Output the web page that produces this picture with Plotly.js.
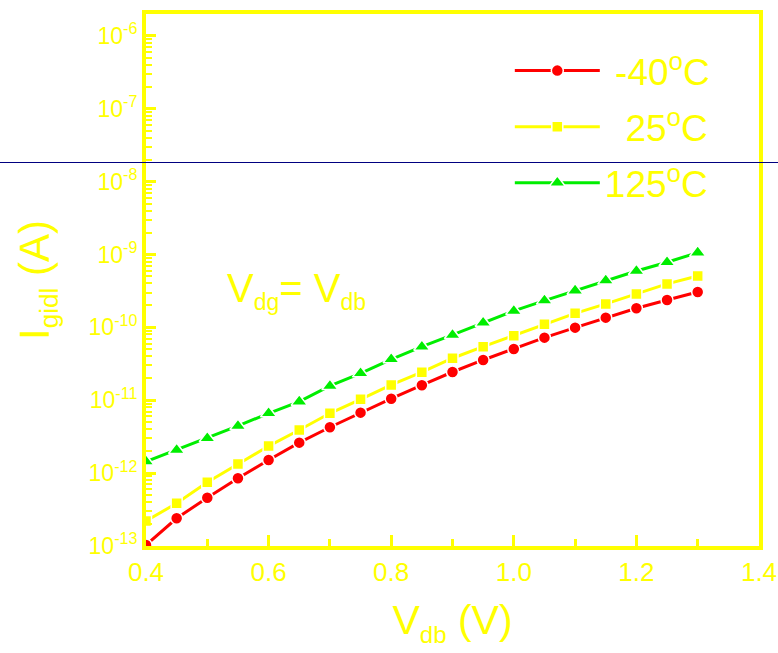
<!DOCTYPE html>
<html>
<head>
<meta charset="utf-8">
<script src="https://cdn.plot.ly/plotly-3.0.1.min.js"></script>
<style>html,body{margin:0;padding:0;background:#fff;}#chart{width:778px;height:653px;}</style>
</head>
<body>
<div id="chart"></div>
<script>
// Drain voltage V_db (V)
var vdb = [0.40, 0.45, 0.50, 0.55, 0.60, 0.65, 0.70, 0.75, 0.80, 0.85, 0.90, 0.95, 1.00, 1.05, 1.10, 1.15, 1.20, 1.25, 1.30];
// GIDL current (A) at each temperature
var iMinus40 = [1.03e-13, 2.40e-13, 4.60e-13, 8.49e-13, 1.51e-12, 2.62e-12, 4.26e-12, 6.76e-12, 1.05e-11, 1.61e-11, 2.44e-11, 3.57e-11, 5.06e-11, 7.23e-11, 9.91e-11, 1.36e-10, 1.83e-10, 2.38e-10, 3.06e-10];
var i25 = [2.20e-13, 3.86e-13, 7.48e-13, 1.33e-12, 2.35e-12, 3.91e-12, 6.62e-12, 1.03e-11, 1.62e-11, 2.43e-11, 3.77e-11, 5.43e-11, 7.69e-11, 1.10e-10, 1.56e-10, 2.10e-10, 2.88e-10, 3.95e-10, 5.08e-10];
var i125 = [1.44e-12, 2.08e-12, 3.01e-12, 4.44e-12, 6.62e-12, 9.57e-12, 1.57e-11, 2.34e-11, 3.65e-11, 5.43e-11, 7.87e-11, 1.16e-10, 1.68e-10, 2.33e-10, 3.19e-10, 4.38e-10, 5.94e-10, 7.84e-10, 1.06e-9];
// Legend labels
var seriesNames = ["\u00a0-40<sup>o</sup>C", "\u00a0\u00a025<sup>o</sup>C", "125<sup>o</sup>C"];
// Y tick labels (major decades)
var yTickVals = [1e-13, 1e-12, 1e-11, 1e-10, 1e-9, 1e-8, 1e-7, 1e-6];
var yTickText = ["10<sup>-13</sup>", "10<sup>-12</sup>", "10<sup>-11</sup>", "10<sup>-10</sup>", "10<sup>-9</sup>", "10<sup>-8</sup>", "10<sup>-7</sup>", "10<sup>-6</sup>"];
// mantissas of the minor ticks inside each decade
var minorMantissas = [2, 3, 4, 5, 6, 7, 8, 9];

var YEL = "#ffff00", RED = "#ff0000", GRN = "#00ee00";
var TICKC = YEL;
var FONT = "Liberation Sans, Arial, sans-serif";

var yMinorVals = [];
yTickVals.forEach(function (dec) {
  minorMantissas.forEach(function (m) { yMinorVals.push(m * dec); });
});

var traces = [
  {x: vdb, y: iMinus40, name: seriesNames[0], legendgroup: "a", mode: "lines+markers",
   line: {color: RED, width: 3}, marker: {symbol: "circle", size: 12, color: RED, line: {color: "#ffffff", width: 1.5}}},
  {x: vdb, y: i25, name: seriesNames[1], legendgroup: "b", mode: "lines+markers",
   line: {color: YEL, width: 3}, marker: {symbol: "square", size: 11, color: YEL, line: {color: "#ffffff", width: 1.5}}},
  {x: vdb, y: i125, name: seriesNames[2], legendgroup: "c", mode: "lines+markers",
   line: {color: GRN, width: 3}, marker: {symbol: "triangle-up", size: 14, color: GRN, line: {color: "#ffffff", width: 1.5}}}
];

var layout = {
  width: 778, height: 653,
  margin: {l: 146, r: 19, t: 14, b: 107},
  paper_bgcolor: "#ffffff", plot_bgcolor: "#ffffff",
  font: {family: FONT, color: YEL},
  showlegend: true,
  legend: {x: 0.5935, y: 0.951, xanchor: "left", yanchor: "top", bgcolor: "rgba(0,0,0,0)",
           font: {size: 37, color: YEL, family: FONT}, itemwidth: 85, tracegroupgap: 5},
  xaxis: {
    range: [0.4, 1.4], tickmode: "linear", dtick: 0.2, tick0: 0.4, tickformat: ".1f",
    showgrid: false, zeroline: false,
    showline: true, linecolor: YEL, linewidth: 4, mirror: true,
    ticks: "inside", ticklen: 11, tickwidth: 3, tickcolor: TICKC,
    minor: {tickmode: "linear", dtick: 0.1, tick0: 0.4, ticks: "inside", ticklen: 7, tickwidth: 3, tickcolor: TICKC, showgrid: false},
    tickfont: {size: 26, color: YEL, family: FONT},
    title: {text: "V<sub><span style=\"font-size:24px\">db</span></sub> (V)", font: {size: 41, color: YEL, family: FONT}, standoff: 20}
  },
  yaxis: {
    type: "log", range: [-13, -5.7],
    tickmode: "array", tickvals: yTickVals, ticktext: yTickText,
    showgrid: false, zeroline: false,
    showline: true, linecolor: YEL, linewidth: 4, mirror: true,
    ticks: "inside", ticklen: 10, tickwidth: 3, tickcolor: TICKC,
    minor: {tickmode: "array", tickvals: yMinorVals, ticks: "inside", ticklen: 6, tickwidth: 2, tickcolor: TICKC, showgrid: false},
    tickfont: {size: 23, color: YEL, family: FONT},
    title: {text: "I<sub><span style=\"font-size:26px\">gidl</span></sub> (A)", font: {size: 42, color: YEL, family: FONT}, standoff: 27}
  },
  annotations: [{
    xref: "x", yref: "y", x: 0.645, y: -9.49, showarrow: false,
    xanchor: "center", yanchor: "middle",
    text: "V<sub><span style=\"font-size:23px\">dg</span></sub>= V<sub><span style=\"font-size:23px\">db</span></sub>",
    font: {size: 40, color: YEL, family: FONT}
  }],
  shapes: [{
    type: "line", xref: "paper", yref: "paper",
    x0: -0.24, x1: 1.04, y0: 0.72086, y1: 0.72086,
    line: {color: "#000080", width: 1}, layer: "above"
  }]
};

Plotly.newPlot("chart", traces, layout, {displayModeBar: false, staticPlot: true});
</script>
</body>
</html>
